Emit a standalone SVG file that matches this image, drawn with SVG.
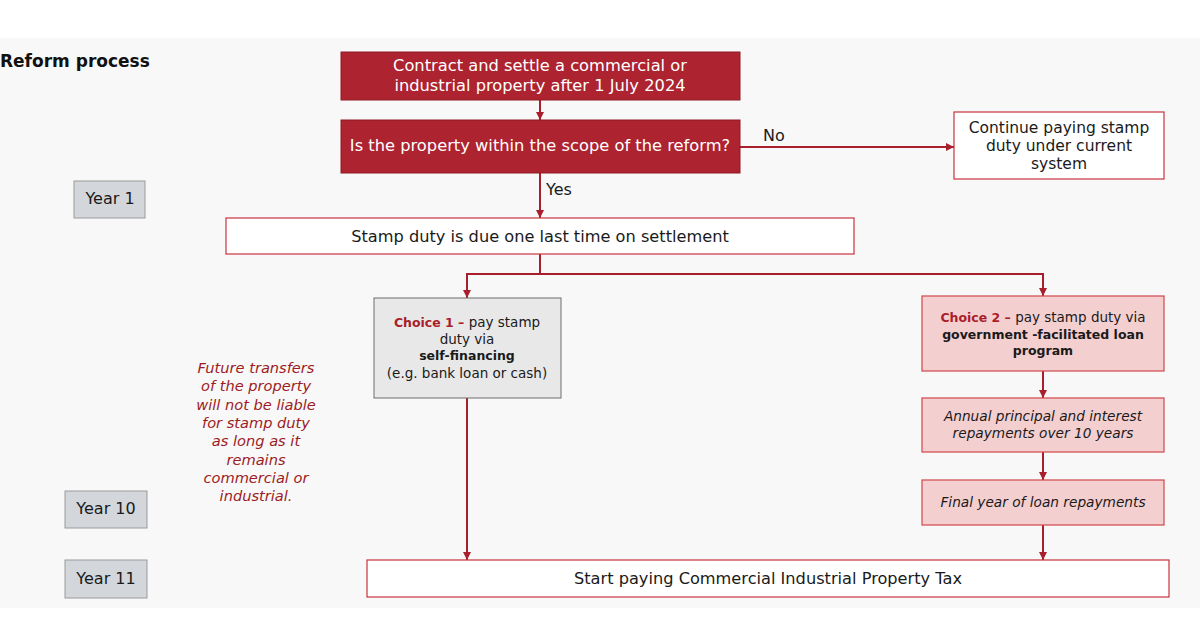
<svg xmlns="http://www.w3.org/2000/svg" width="1200" height="643" viewBox="0 0 1200 643">
<defs>
<marker id="ah" markerWidth="10" markerHeight="10" refX="9" refY="5" orient="auto" markerUnits="userSpaceOnUse">
<path d="M1,1 L9,5 L1,9 Z" fill="#a81e2a"/>
</marker>
<style>
text{font-family:"DejaVu Sans","Liberation Sans",Arial,sans-serif;}
.t{font-size:16.2px;fill:#1a1a1a;text-anchor:middle;}
.m{font-size:15.5px;fill:#1a1a1a;text-anchor:middle;}
.y{font-size:16px;fill:#1a1a1a;text-anchor:middle;}
.w{font-size:16.3px;fill:#ffffff;text-anchor:middle;}
.s{font-size:13.5px;fill:#1a1a1a;text-anchor:middle;}
.i{font-size:13.7px;fill:#1a1a1a;text-anchor:middle;font-style:italic;}
.b{font-weight:bold;font-size:12.5px;}
.r{fill:#a81e2a;}
.red{fill:#ad2330;stroke:#8e1a24;stroke-width:1;}
.out{fill:#ffffff;stroke:#c8333c;stroke-width:1.2;}
.grey{fill:#e8e8e8;stroke:#6e6e6e;stroke-width:1;}
.pink{fill:#f4cfd0;stroke:#d0464c;stroke-width:1.2;}
.yr{fill:#d3d6da;stroke:#9a9a9a;stroke-width:1;}
.c{stroke:#a81e2a;stroke-width:2;fill:none;}
.note{font-size:14.6px;fill:#9c1c24;font-style:italic;text-anchor:middle;}
</style>
</defs>
<rect x="0" y="0" width="1200" height="643" fill="#ffffff"/>
<rect x="0" y="38" width="1200" height="570" fill="#f8f8f8"/>
<text x="0" y="67" style="font-size:17px;font-weight:bold;fill:#111;">Reform process</text>

<g id="connectors">
<line class="c" x1="540" y1="100" x2="540" y2="120" marker-end="url(#ah)"/>
<line class="c" x1="740" y1="147" x2="954" y2="147" marker-end="url(#ah)"/>
<line class="c" x1="540" y1="173" x2="540" y2="218" marker-end="url(#ah)"/>
<path class="c" d="M540,254 V274 H467 V298" marker-end="url(#ah)"/>
<path class="c" d="M540,274 H1043 V296" marker-end="url(#ah)"/>
<line class="c" x1="1043" y1="371" x2="1043" y2="398" marker-end="url(#ah)"/>
<line class="c" x1="1043" y1="452" x2="1043" y2="480" marker-end="url(#ah)"/>
<line class="c" x1="1043" y1="525" x2="1043" y2="560" marker-end="url(#ah)"/>
<line class="c" x1="467" y1="398" x2="467" y2="560" marker-end="url(#ah)"/>
<text x="763" y="141" style="font-size:16px;fill:#1a1a1a;">No</text>
<text x="546" y="195" style="font-size:16px;fill:#1a1a1a;">Yes</text>
</g>

<g id="n-contract">
<rect class="red" x="341" y="52" width="399" height="48"/>
<text class="w" x="540" y="71">Contract and settle a commercial or</text>
<text class="w" x="540" y="91">industrial property after 1 July 2024</text>
</g>
<g id="n-scope">
<rect class="red" x="341" y="120" width="399" height="53"/>
<text class="w" x="540" y="151">Is the property within the scope of the reform?</text>
</g>
<g id="n-continue">
<rect class="out" x="954" y="112" width="210" height="67"/>
<text class="m" x="1059" y="133">Continue paying stamp</text>
<text class="m" x="1059" y="151">duty under current</text>
<text class="m" x="1059" y="169">system</text>
</g>
<g id="n-year1">
<rect class="yr" x="74" y="181" width="71" height="37"/>
<text class="y" x="110" y="204">Year 1</text>
</g>
<g id="n-stamp">
<rect class="out" x="226" y="218" width="628" height="36"/>
<text class="t" x="540" y="242">Stamp duty is due one last time on settlement</text>
</g>
<g id="n-choice1">
<rect class="grey" x="374" y="298" width="187" height="100"/>
<text class="s" x="467" y="327"><tspan class="b r">Choice 1 –</tspan> pay stamp</text>
<text class="s" x="467" y="344">duty via</text>
<text class="s b" x="467" y="360">self-financing</text>
<text class="s" x="467" y="378">(e.g. bank loan or cash)</text>
</g>
<g id="n-choice2">
<rect class="pink" x="922" y="296" width="242" height="75"/>
<text class="s" x="1043" y="322"><tspan class="b r">Choice 2 –</tspan> pay stamp duty via</text>
<text class="s b" x="1043" y="339">government -facilitated loan</text>
<text class="s b" x="1043" y="355">program</text>
</g>
<g id="n-annual">
<rect class="pink" x="922" y="398" width="242" height="54"/>
<text class="i" x="1043" y="421">Annual principal and interest</text>
<text class="i" x="1043" y="438">repayments over 10 years</text>
</g>
<g id="n-final">
<rect class="pink" x="922" y="480" width="242" height="45"/>
<text class="i" x="1043" y="507">Final year of loan repayments</text>
</g>
<g id="n-note">
<text class="note" x="256" y="373">Future transfers</text>
<text class="note" x="256" y="391">of the property</text>
<text class="note" x="256" y="410">will not be liable</text>
<text class="note" x="256" y="428">for stamp duty</text>
<text class="note" x="256" y="446">as long as it</text>
<text class="note" x="256" y="465">remains</text>
<text class="note" x="256" y="483">commercial or</text>
<text class="note" x="256" y="501">industrial.</text>
</g>
<g id="n-year10">
<rect class="yr" x="65" y="491" width="82" height="37"/>
<text class="y" x="106" y="514">Year 10</text>
</g>
<g id="n-year11">
<rect class="yr" x="65" y="560" width="82" height="38"/>
<text class="y" x="106" y="584">Year 11</text>
</g>
<g id="n-cipt">
<rect class="out" x="367" y="560" width="802" height="37"/>
<text class="t" x="768" y="584">Start paying Commercial Industrial Property Tax</text>
</g>
</svg>
